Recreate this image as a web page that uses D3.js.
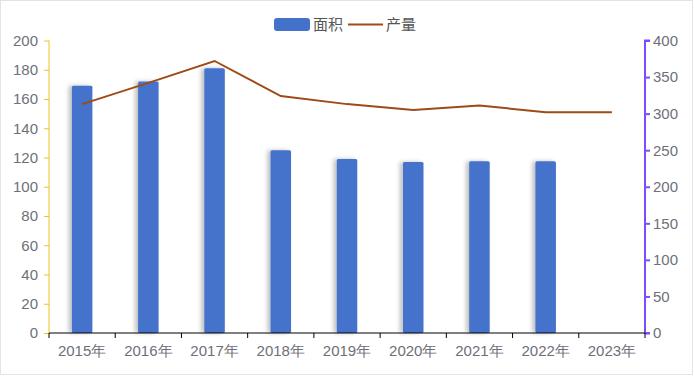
<!DOCTYPE html>
<html lang="zh">
<head>
<meta charset="UTF-8">
<title>面积 产量</title>
<script src="https://cdn.jsdelivr.net/npm/d3@7/dist/d3.min.js"></script>
<style>
  body { margin: 0; background: #fff; }
  svg { display: block; font-family: "Microsoft YaHei", "Noto Sans CJK SC", sans-serif; }
</style>
</head>
<body>
<svg id="chart" width="694" height="386"></svg>
<script>
// data
var years = ["2015年", "2016年", "2017年", "2018年", "2019年", "2020年", "2021年", "2022年", "2023年"];
var area = [169, 172, 181, 125, 119, 117, 117.5, 117.5, null];   // 面积, left axis
var output = [313, 342, 372, 324, 313, 305, 311, 302, 302];     // 产量, right axis
var leftTicks = [0, 20, 40, 60, 80, 100, 120, 140, 160, 180, 200];
var rightTicks = [0, 50, 100, 150, 200, 250, 300, 350, 400];

var svg = d3.select("#chart");
var margin = { left: 49, right: 49, top: 40.5, bottom: 53 };
var W = 694, H = 386;

// outer frame
svg.append("rect")
    .attr("x", 0.5).attr("y", 0.5)
    .attr("width", 692).attr("height", 374)
    .attr("fill", "#fff").attr("stroke", "#e3e3e3");

var defs = svg.append("defs");
var f = defs.append("filter").attr("id", "shadow")
    .attr("x", "-50%").attr("y", "-10%").attr("width", "200%").attr("height", "120%");
f.append("feDropShadow")
    .attr("dx", -3).attr("dy", 0).attr("stdDeviation", 2)
    .attr("flood-color", "#000").attr("flood-opacity", 0.25);

var x = d3.scaleBand()
    .domain(years)
    .range([margin.left, W - margin.right]);

var yL = d3.scaleLinear().domain([0, 200]).range([H - margin.bottom, margin.top]);
var yR = d3.scaleLinear().domain([0, 400]).range([H - margin.bottom, margin.top]);

// bars
var barW = x.bandwidth() * 0.31;
svg.append("g").selectAll("rect")
    .data(years.map(function (d, i) { return { year: d, v: area[i] }; })
        .filter(function (d) { return d.v != null; }))
    .enter()
    .append("rect")
    .attr("x", function (d) { return x(d.year) + x.bandwidth() / 2 - barW / 2; })
    .attr("y", function (d) { return yL(d.v); })
    .attr("width", barW)
    .attr("height", function (d) { return yL(0) - yL(d.v); })
    .attr("rx", 1.5)
    .attr("fill", "#4472ca")
    .attr("filter", "url(#shadow)");

// line
var line = d3.line()
    .x(function (d, i) { return x(years[i]) + x.bandwidth() / 2; })
    .y(function (d) { return yR(d); });

svg.append("path")
    .datum(output)
    .attr("d", line)
    .attr("fill", "none")
    .attr("stroke", "#9e4b17")
    .attr("stroke-width", 2);

// left axis
var gL = svg.append("g")
    .attr("transform", "translate(" + margin.left + ",0)")
    .call(d3.axisLeft(yL).tickValues(leftTicks).tickSize(5).tickPadding(6));
gL.selectAll("path, line").attr("stroke", "#f5c21b");
gL.selectAll("text").attr("fill", "#6e7079").attr("font-size", 15);
gL.select(".domain").attr("d", "M0," + yL(200) + "V" + yL(0));

// right axis
var gR = svg.append("g")
    .attr("transform", "translate(" + (W - margin.right) + ",0)")
    .call(d3.axisRight(yR).tickValues(rightTicks).tickSize(5).tickPadding(3));
gR.selectAll("path, line").attr("stroke", "#7c4dff").attr("stroke-width", 2);
gR.selectAll("text").attr("fill", "#6e7079").attr("font-size", 15);
gR.select(".domain").attr("d", "M5," + yR(400) + "H0V" + yR(0) + "H5");

// x axis
var gX = svg.append("g")
    .attr("transform", "translate(0," + (H - margin.bottom) + ")")
    .call(d3.axisBottom(x).tickSize(0).tickPadding(12));
gX.select(".domain").attr("stroke", "#000").attr("d", "M" + margin.left + ",0H" + (W - margin.right));
gX.selectAll("text").attr("fill", "#6e7079").attr("font-size", 15);
gX.selectAll(".bnd")
    .data(d3.range(years.length + 1))
    .enter()
    .append("line")
    .attr("class", "bnd")
    .attr("x1", function (i) { return margin.left + i * x.step(); })
    .attr("x2", function (i) { return margin.left + i * x.step(); })
    .attr("y1", 0).attr("y2", 5)
    .attr("stroke", "#000");

// legend
var lg = svg.append("g").attr("transform", "translate(274,18)");
lg.append("rect")
    .attr("width", 36).attr("height", 13).attr("rx", 3)
    .attr("fill", "#4472ca");
lg.append("text")
    .attr("x", 39).attr("y", 12)
    .attr("font-size", 15).attr("fill", "#555")
    .text("面积");
lg.append("line")
    .attr("x1", 74).attr("x2", 109).attr("y1", 6.5).attr("y2", 6.5)
    .attr("stroke", "#9e4b17").attr("stroke-width", 2);
lg.append("text")
    .attr("x", 112).attr("y", 12)
    .attr("font-size", 15).attr("fill", "#555")
    .text("产量");
</script>
</body>
</html>
